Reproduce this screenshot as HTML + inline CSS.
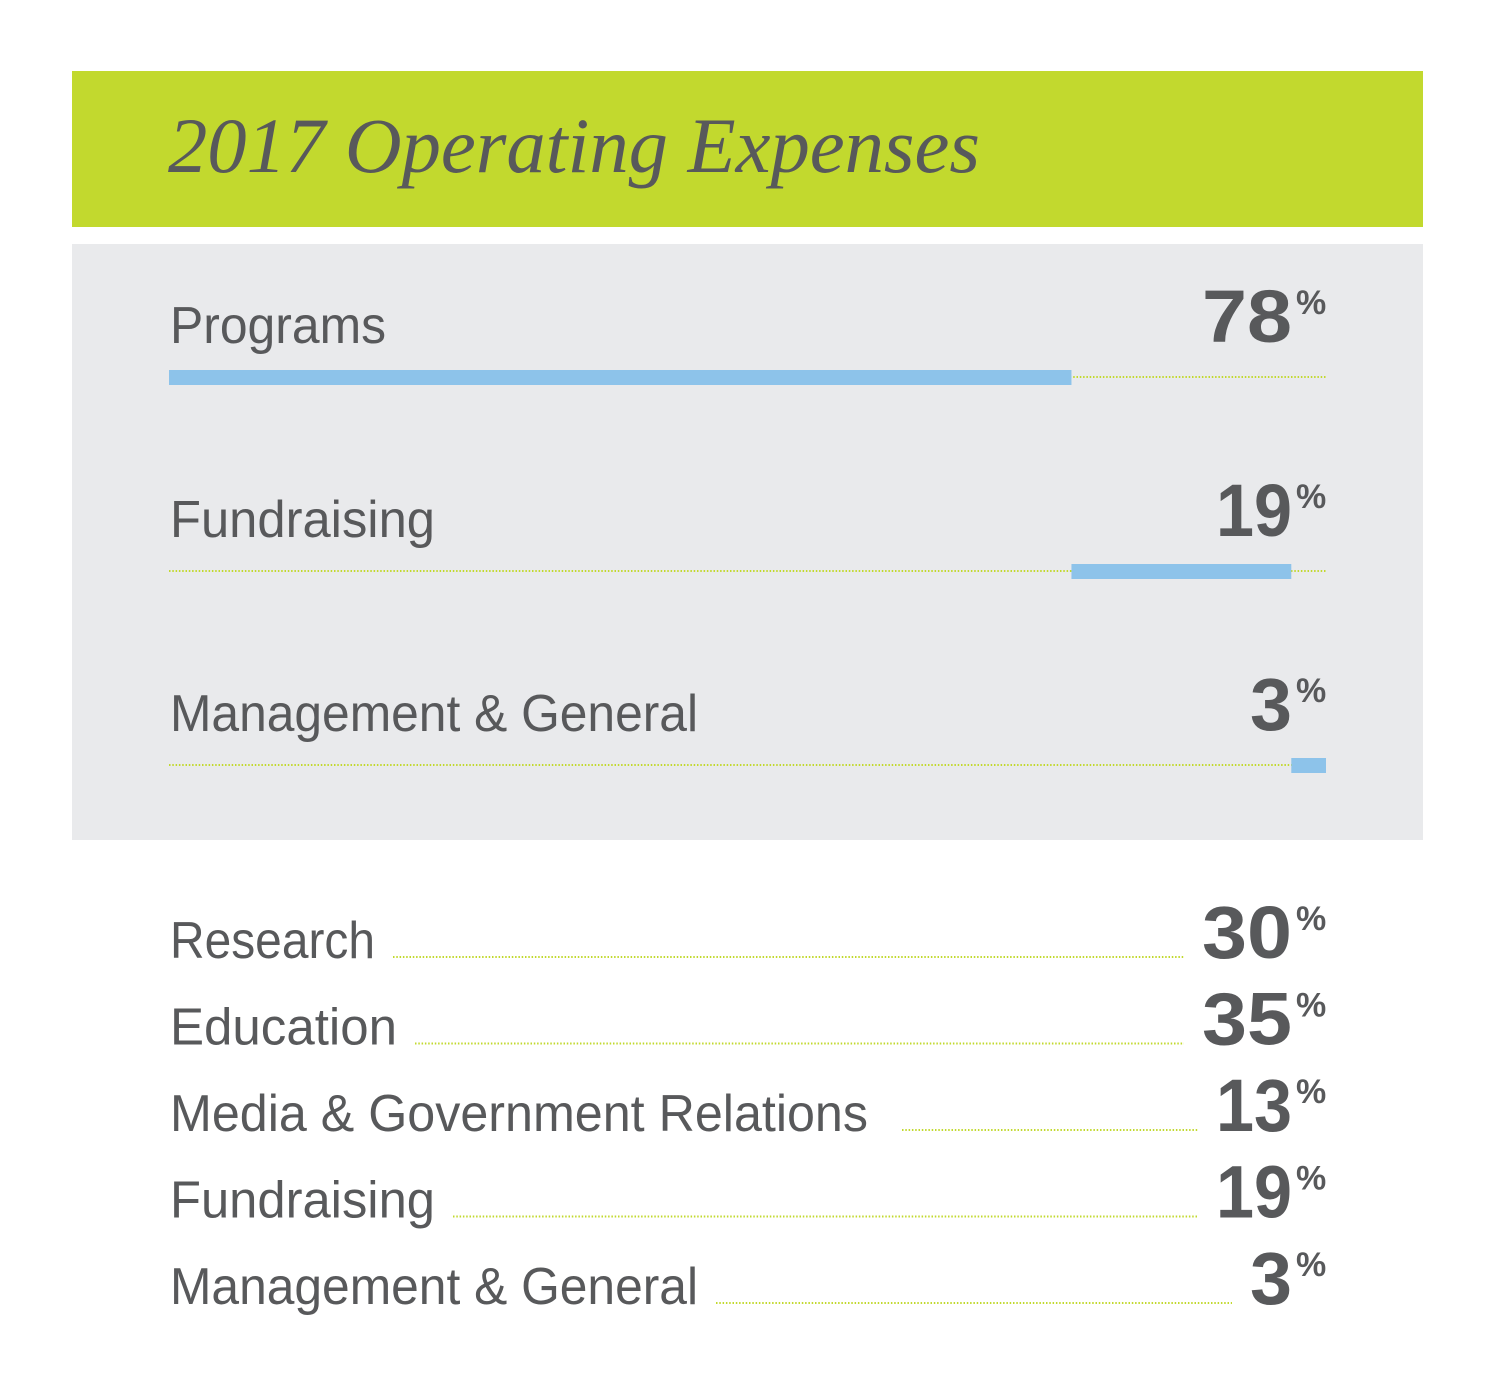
<!DOCTYPE html>
<html><head><meta charset="utf-8">
<style>
html,body{margin:0;padding:0;background:#fff;width:1500px;height:1375px;overflow:hidden}
svg{display:block}
.lbl{font-family:"Liberation Sans",sans-serif;font-size:52px;fill:#58595b}
.num{font-family:"Liberation Sans",sans-serif;font-weight:bold;font-size:74px;fill:#58595b}
.pct{font-family:"Liberation Sans",sans-serif;font-weight:bold;font-size:34px;fill:#58595b}
</style></head>
<body>
<svg id="chart" width="1500" height="1375" viewBox="0 0 1500 1375">
<rect x="72" y="71" width="1351" height="156" fill="#c2d92e"/>
<text x="168" y="172" font-family="Liberation Serif, serif" font-style="italic" font-size="78" fill="#58595b" textLength="812" lengthAdjust="spacingAndGlyphs">2017 Operating Expenses</text>
<rect x="72" y="244" width="1351" height="596" fill="#e9eaec"/>
<g id="bars"></g>
<g id="list"></g>
</svg>
<script>
const categories = ["Programs", "Fundraising", "Management & General"];
const values = [78, 19, 3];
const labelWidths = [216, 265, 528];
const detailCategories = ["Research", "Education", "Media & Government Relations", "Fundraising", "Management & General"];
const detailValues = [30, 35, 13, 19, 3];
const detailWidths = [205, 227, 698, 265, 528];

const NS = "http://www.w3.org/2000/svg";
function mk(tag, attrs, parent){const e=document.createElementNS(NS,tag);for(const k in attrs)e.setAttribute(k,attrs[k]);parent.appendChild(e);return e;}
function numWidth(v){const s=String(v);if(s.length===1)return 42;return s[0]==='1'?76:90;}
const x0 = 169, x1 = 1326;
const total = values.reduce((a,b)=>a+b,0);
const xScale = v => x0 + (x1-x0)*v/total;
const bars = document.getElementById('bars');
let cum = 0;
values.forEach((v,i)=>{
  const top = 263 + i*194;
  const lineY = 377 + i*194;
  const t = mk('text',{x:170,y:top+80,class:'lbl',textLength:labelWidths[i],lengthAdjust:'spacingAndGlyphs'},bars);
  t.textContent = categories[i];
  
  
  const dl = mk('line',{x1:x0,x2:x1,y1:lineY,y2:lineY,stroke:'#c2d92e','stroke-width':2,'stroke-dasharray':'1.5 1.8'},bars);
  
  
  const r = mk('rect',{x:xScale(cum),y:lineY-7,width:xScale(cum+v)-xScale(cum),height:15,fill:'#8dc3ea'},bars);
  
  
  cum += v;
  const w = numWidth(v);
  const n = mk('text',{x:1292-w,y:lineY-35,class:'num',textLength:w,lengthAdjust:'spacingAndGlyphs'},bars);
  n.textContent = v;
  
  
  const p = mk('text',{x:1296,y:lineY-63,class:'pct'},bars);
  p.textContent = '%';
  
  
});
const list = document.getElementById('list');
detailValues.forEach((v,i)=>{
  const base = 958 + i*86.5;
  const t = mk('text',{x:170,y:base,class:'lbl',textLength:detailWidths[i],lengthAdjust:'spacingAndGlyphs'},list);
  t.textContent = detailCategories[i];
  
  
  const w = numWidth(v);
  const n = mk('text',{x:1292-w,y:base,class:'num',textLength:w,lengthAdjust:'spacingAndGlyphs'},list);
  n.textContent = v;
  
  
  const p = mk('text',{x:1296,y:base-28,class:'pct'},list);
  p.textContent = '%';
  
  
  const startX = 170 + detailWidths[i] + (i===2 ? 34 : 18);
  const endX = 1292 - w - 18;
  const dl = mk('line',{x1:startX,x2:endX,y1:base-1,y2:base-1,stroke:'#c2d92e','stroke-width':2,'stroke-dasharray':'1.5 1.8'},list);
  
  
});
</script>
</body></html>
